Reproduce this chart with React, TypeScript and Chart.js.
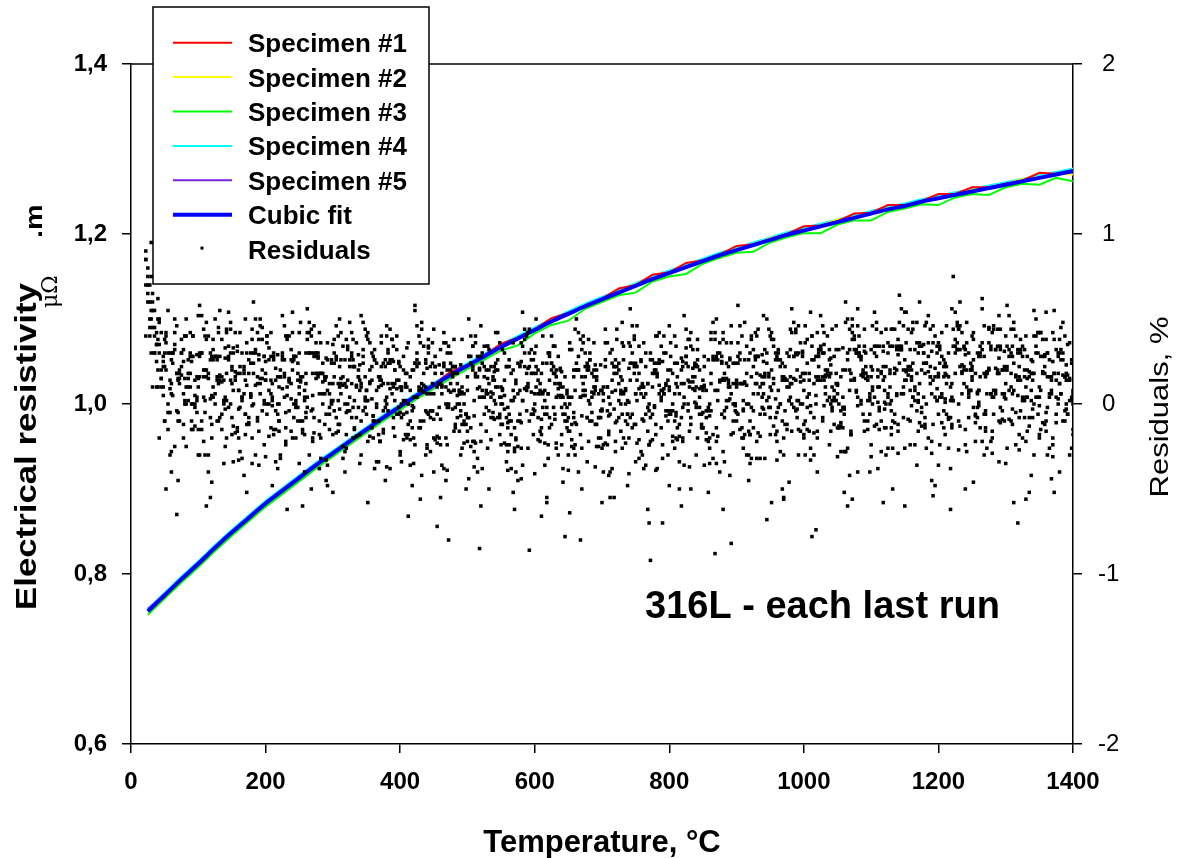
import React, { useEffect, useRef } from 'react';
import { Chart, registerables } from 'chart.js';

Chart.register(...registerables);

const FONT = '"Liberation Sans", Arial, Helvetica, sans-serif';

// Temperatures (°C) for specimen curves and cubic fit
const TEMPS = [
  25, 50, 75, 100, 125, 150, 175, 200, 225, 250,
  275, 300, 325, 350, 375, 400, 425, 450, 475, 500,
  525, 550, 575, 600, 625, 650, 675, 700, 725, 750,
  775, 800, 825, 850, 875, 900, 925, 950, 975, 1000,
  1025, 1050, 1075, 1100, 1125, 1150, 1175, 1200, 1225, 1250,
  1275, 1300, 1325, 1350, 1375, 1400,
];

// Electrical resistivity, µΩ.m
const SPEC1 = [
  0.757, 0.776, 0.795, 0.813, 0.832, 0.850, 0.867, 0.884, 0.899, 0.914,
  0.929, 0.943, 0.957, 0.971, 0.985, 0.998, 1.011, 1.023, 1.038, 1.046,
  1.057, 1.071, 1.078, 1.088, 1.101, 1.107, 1.116, 1.124, 1.136, 1.140,
  1.152, 1.155, 1.166, 1.169, 1.176, 1.186, 1.188, 1.194, 1.200, 1.209,
  1.210, 1.215, 1.224, 1.225, 1.234, 1.234, 1.239, 1.247, 1.247, 1.255,
  1.255, 1.259, 1.263, 1.272, 1.271, 1.275,
];
const SPEC2 = [
  0.757, 0.776, 0.795, 0.813, 0.832, 0.850, 0.867, 0.884, 0.899, 0.914,
  0.929, 0.943, 0.957, 0.971, 0.985, 0.998, 1.011, 1.023, 1.035, 1.046,
  1.057, 1.068, 1.078, 1.088, 1.098, 1.107, 1.116, 1.124, 1.132, 1.141,
  1.148, 1.155, 1.162, 1.169, 1.176, 1.182, 1.188, 1.195, 1.200, 1.205,
  1.210, 1.217, 1.220, 1.225, 1.230, 1.234, 1.239, 1.243, 1.247, 1.252,
  1.255, 1.259, 1.265, 1.267, 1.271, 1.270,
];
const SPEC3 = [
  0.752, 0.771, 0.790, 0.808, 0.827, 0.845, 0.862, 0.879, 0.894, 0.909,
  0.924, 0.938, 0.952, 0.966, 0.980, 0.993, 1.006, 1.018, 1.030, 1.041,
  1.052, 1.063, 1.069, 1.083, 1.093, 1.098, 1.112, 1.120, 1.128, 1.131,
  1.144, 1.150, 1.153, 1.165, 1.172, 1.178, 1.179, 1.190, 1.196, 1.201,
  1.201, 1.211, 1.216, 1.216, 1.226, 1.230, 1.235, 1.234, 1.243, 1.247,
  1.246, 1.255, 1.259, 1.258, 1.266, 1.262,
];
const SPEC4 = [
  0.758, 0.778, 0.797, 0.815, 0.834, 0.852, 0.869, 0.886, 0.901, 0.916,
  0.931, 0.945, 0.959, 0.973, 0.987, 1.000, 1.013, 1.025, 1.037, 1.048,
  1.059, 1.070, 1.080, 1.090, 1.100, 1.109, 1.118, 1.126, 1.134, 1.142,
  1.150, 1.157, 1.164, 1.171, 1.178, 1.184, 1.190, 1.196, 1.202, 1.207,
  1.212, 1.217, 1.222, 1.227, 1.232, 1.236, 1.241, 1.245, 1.249, 1.253,
  1.257, 1.261, 1.265, 1.269, 1.273, 1.277,
];
const SPEC5 = [
  0.759, 0.777, 0.796, 0.814, 0.832, 0.850, 0.867, 0.884, 0.899, 0.914,
  0.929, 0.943, 0.957, 0.971, 0.985, 0.998, 1.011, 1.023, 1.035, 1.046,
  1.057, 1.068, 1.078, 1.088, 1.098, 1.107, 1.116, 1.125, 1.133, 1.140,
  1.148, 1.156, 1.162, 1.169, 1.177, 1.182, 1.189, 1.194, 1.200, 1.206,
  1.210, 1.215, 1.221, 1.225, 1.230, 1.235, 1.239, 1.243, 1.248, 1.251,
  1.255, 1.260, 1.263, 1.267, 1.271, 1.274,
];
const FIT = [
  0.756, 0.775, 0.794, 0.812, 0.831, 0.849, 0.866, 0.883, 0.898, 0.913,
  0.928, 0.942, 0.956, 0.970, 0.984, 0.997, 1.010, 1.022, 1.034, 1.045,
  1.056, 1.067, 1.077, 1.087, 1.097, 1.106, 1.115, 1.123, 1.131, 1.139,
  1.147, 1.154, 1.161, 1.168, 1.175, 1.181, 1.187, 1.193, 1.199, 1.204,
  1.209, 1.214, 1.219, 1.224, 1.229, 1.233, 1.238, 1.242, 1.246, 1.250,
  1.254, 1.258, 1.262, 1.266, 1.270, 1.274,
];

// Residual temperatures (°C), four interleaved sampling grids
const RES_T_A = [
  30, 40, 50, 60, 70, 80, 90, 100, 110, 120, 130, 140, 150, 160, 170, 180, 190, 200, 210, 220,
  230, 240, 250, 260, 270, 280, 290, 300, 310, 320, 330, 340, 350, 360, 370, 380, 390, 400, 410, 420,
  430, 440, 450, 460, 470, 480, 490, 500, 510, 520, 530, 540, 550, 560, 570, 580, 590, 600, 610, 620,
  630, 640, 650, 660, 670, 680, 690, 700, 710, 720, 730, 740, 750, 760, 770, 780, 790, 800, 810, 820,
  830, 840, 850, 860, 870, 880, 890, 900, 910, 920, 930, 940, 950, 960, 970, 980, 990, 1000, 1010, 1020,
  1030, 1040, 1050, 1060, 1070, 1080, 1090, 1100, 1110, 1120, 1130, 1140, 1150, 1160, 1170, 1180, 1190, 1200, 1210, 1220,
  1230, 1240, 1250, 1260, 1270, 1280, 1290, 1300, 1310, 1320, 1330, 1340, 1350, 1360, 1370, 1380, 1390, 1400,
];
const RES_T_B = [
  25, 35, 45, 55, 65, 75, 85, 95, 105, 115, 125, 135, 145, 155, 165, 175, 185, 195, 205, 215,
  225, 235, 245, 255, 265, 275, 285, 295, 305, 315, 325, 335, 345, 355, 365, 375, 385, 395, 405, 415,
  425, 435, 445, 455, 465, 475, 485, 495, 505, 515, 525, 535, 545, 555, 565, 575, 585, 595, 605, 615,
  625, 635, 645, 655, 665, 675, 685, 695, 705, 715, 725, 735, 745, 755, 765, 775, 785, 795, 805, 815,
  825, 835, 845, 855, 865, 875, 885, 895, 905, 915, 925, 935, 945, 955, 965, 975, 985, 995, 1005, 1015,
  1025, 1035, 1045, 1055, 1065, 1075, 1085, 1095, 1105, 1115, 1125, 1135, 1145, 1155, 1165, 1175, 1185, 1195, 1205, 1215,
  1225, 1235, 1245, 1255, 1265, 1275, 1285, 1295, 1305, 1315, 1325, 1335, 1345, 1355, 1365, 1375, 1385, 1395,
];
const RES_T_C = [
  28, 38, 48, 58, 68, 78, 88, 98, 108, 118, 128, 138, 148, 158, 168, 178, 188, 198, 208, 218,
  228, 238, 248, 258, 268, 278, 288, 298, 308, 318, 328, 338, 348, 358, 368, 378, 388, 398, 408, 418,
  428, 438, 448, 458, 468, 478, 488, 498, 508, 518, 528, 538, 548, 558, 568, 578, 588, 598, 608, 618,
  628, 638, 648, 658, 668, 678, 688, 698, 708, 718, 728, 738, 748, 758, 768, 778, 788, 798, 808, 818,
  828, 838, 848, 858, 868, 878, 888, 898, 908, 918, 928, 938, 948, 958, 968, 978, 988, 998, 1008, 1018,
  1028, 1038, 1048, 1058, 1068, 1078, 1088, 1098, 1108, 1118, 1128, 1138, 1148, 1158, 1168, 1178, 1188, 1198, 1208, 1218,
  1228, 1238, 1248, 1258, 1268, 1278, 1288, 1298, 1308, 1318, 1328, 1338, 1348, 1358, 1368, 1378, 1388, 1398,
];
const RES_T_D = [
  22, 32, 42, 52, 62, 72, 82, 92, 102, 112, 122, 132, 142, 152, 162, 172, 182, 192, 202, 212,
  222, 232, 242, 252, 262, 272, 282, 292, 302, 312, 322, 332, 342, 352, 362, 372, 382, 392, 402, 412,
  422, 432, 442, 452, 462, 472, 482, 492, 502, 512, 522, 532, 542, 552, 562, 572, 582, 592, 602, 612,
  622, 632, 642, 652, 662, 672, 682, 692, 702, 712, 722, 732, 742, 752, 762, 772, 782, 792, 802, 812,
  822, 832, 842, 852, 862, 872, 882, 892, 902, 912, 922, 932, 942, 952, 962, 972, 982, 992, 1002, 1012,
  1022, 1032, 1042, 1052, 1062, 1072, 1082, 1092, 1102, 1112, 1122, 1132, 1142, 1152, 1162, 1172, 1182, 1192, 1202, 1212,
  1222, 1232, 1242, 1252, 1262, 1272, 1282, 1292, 1302, 1312, 1322, 1332, 1342, 1352, 1362, 1372, 1382, 1392,
];

// Residuals, %
const RES1 = [
  0.95, 0.62, 0.30, 0.12, -0.05, 0.40, 0.28, 0.15, 0.02, -0.12, 0.45, 0.33, 0.20, 0.08, -0.06, -0.35, 0.38, 0.25, 0.12, 0.00,
  -0.14, 0.42, 0.30, 0.18, 0.05, -0.10, -0.45, 0.35, 0.22, 0.10, -0.02, -0.18, 0.40, 0.28, 0.16, 0.04, -0.08, -0.30, 0.33, 0.20,
  0.08, -0.05, -0.20, -0.55, 0.30, 0.18, 0.06, -0.08, -0.22, 0.28, 0.15, 0.02, -0.12, -0.28, -0.62, 0.25, 0.12, 0.00, -0.14, 0.30,
  0.18, 0.05, -0.08, -0.24, -0.50, 0.22, 0.10, -0.03, -0.18, 0.26, 0.14, 0.01, -0.12, -0.30, -0.70, 0.20, 0.08, -0.06, -0.20, 0.25,
  0.13, 0.00, -0.14, -0.35, 0.28, 0.15, 0.03, -0.10, -0.26, 0.30, 0.18, 0.06, -0.08, -0.22, -0.55, 0.32, 0.20, 0.08, -0.05, -0.20,
  0.35, 0.23, 0.11, -0.02, -0.16, -0.40, 0.34, 0.22, 0.10, -0.03, -0.18, 0.38, 0.26, 0.14, 0.02, -0.12, -0.45, 0.36, 0.24, 0.12,
  0.00, -0.15, 0.40, 0.28, 0.16, 0.04, -0.10, -0.35, 0.34, 0.22, 0.10, -0.03, -0.18, 0.38, 0.25, 0.12, 0.00, -0.15,
];
const RES2 = [
  0.80, 0.45, 0.20, 0.55, 0.42, 0.30, 0.18, 0.05, -0.10, -0.40, 0.50, 0.38, 0.26, 0.14, 0.02, -0.12, -0.30, 0.45, 0.33, 0.21,
  0.09, -0.04, -0.20, -0.60, 0.42, 0.30, 0.18, 0.06, -0.08, -0.25, 0.48, 0.36, 0.24, 0.12, 0.00, -0.15, -0.38, 0.40, 0.28, 0.16,
  0.04, -0.10, -0.28, -0.72, 0.36, 0.24, 0.12, 0.00, -0.14, -0.32, 0.34, 0.22, 0.10, -0.03, -0.18, -0.45, 0.38, 0.26, 0.14, 0.02,
  -0.12, -0.30, -0.78, 0.32, 0.20, 0.08, -0.05, -0.20, 0.36, 0.24, 0.12, 0.00, -0.14, -0.32, 0.30, 0.18, 0.06, -0.07, -0.22, -0.50,
  0.33, 0.21, 0.09, -0.04, -0.18, -0.40, 0.36, 0.24, 0.12, 0.00, -0.14, -0.32, -0.68, 0.34, 0.22, 0.10, -0.02, -0.16, 0.38, 0.26,
  0.14, 0.02, -0.12, -0.28, -0.60, 0.40, 0.28, 0.16, 0.04, -0.10, -0.26, 0.44, 0.32, 0.20, 0.08, -0.05, -0.20, -0.48, 0.42, 0.30,
  0.18, 0.06, -0.08, -0.22, 0.62, 0.45, 0.32, 0.20, 0.08, -0.05, -0.20, -0.52, 0.40, 0.28, 0.16, 0.04, -0.10, -0.30,
];
const RES3 = [
  0.70, 0.35, 0.05, -0.30, -0.65, 0.25, 0.10, -0.05, -0.22, -0.55, 0.28, 0.14, 0.00, -0.16, -0.42, 0.30, 0.16, 0.02, -0.14, -0.38,
  0.26, 0.12, -0.02, -0.18, -0.50, 0.28, 0.14, 0.00, -0.16, -0.40, 0.30, 0.16, 0.02, -0.14, -0.34, 0.26, 0.12, -0.02, -0.18, -0.48,
  0.24, 0.10, -0.04, -0.20, -0.45, 0.22, 0.08, -0.06, -0.22, -0.85, 0.20, 0.06, -0.08, -0.24, -0.52, 0.22, 0.08, -0.06, -0.22, -0.58,
  0.18, 0.04, -0.10, -0.26, -0.80, 0.20, 0.06, -0.08, -0.24, -0.55, 0.16, 0.02, -0.12, -0.28, -0.62, 0.18, 0.04, -0.10, -0.26, -0.60,
  0.22, 0.08, -0.06, -0.22, -0.88, 0.24, 0.10, -0.04, -0.20, -0.45, 0.26, 0.12, -0.02, -0.18, -0.50, 0.28, 0.14, 0.00, -0.16, -0.74,
  0.30, 0.16, 0.02, -0.14, -0.42, 0.32, 0.18, 0.04, -0.12, -0.58, 0.34, 0.20, 0.06, -0.10, -0.36, 0.30, 0.16, 0.02, -0.14, -0.62,
  0.36, 0.22, 0.08, -0.08, -0.30, 0.34, 0.20, 0.06, -0.10, -0.70, 0.32, 0.18, 0.04, -0.12, -0.44, 0.30, 0.16, 0.02,
];
const RES4 = [
  0.90, 0.60, 0.48, 0.36, 0.24, 0.12, 0.50, 0.40, 0.30, 0.20, 0.10, 0.55, 0.44, 0.33, 0.22, 0.11, 0.00, 0.46, 0.36, 0.26,
  0.16, 0.05, -0.08, 0.48, 0.38, 0.28, 0.18, 0.08, -0.04, 0.42, 0.32, 0.22, 0.12, 0.02, -0.10, 0.40, 0.30, 0.20, 0.10, 0.00,
  0.55, 0.44, 0.33, 0.22, 0.11, 0.00, -0.12, 0.38, 0.28, 0.18, 0.08, -0.04, 0.42, 0.32, 0.22, 0.12, 0.02, -0.10, 0.50, 0.40,
  0.30, 0.20, 0.10, 0.00, -0.12, 0.36, 0.26, 0.16, 0.06, -0.06, 0.44, 0.34, 0.24, 0.14, 0.04, -0.08, 0.40, 0.30, 0.20, 0.10,
  0.00, -0.12, 0.38, 0.28, 0.18, 0.08, -0.04, 0.46, 0.36, 0.26, 0.16, 0.06, -0.06, 0.42, 0.32, 0.22, 0.12, 0.02, -0.10, 0.40,
  0.30, 0.20, 0.10, 0.00, 0.48, 0.38, 0.28, 0.18, 0.08, -0.04, 0.44, 0.34, 0.24, 0.14, 0.04, 0.60, 0.48, 0.36, 0.24, 0.12,
  0.02, 0.46, 0.36, 0.26, 0.16, 0.06, -0.06, 0.44, 0.34, 0.24, 0.14, 0.04, 0.55, 0.42, 0.30, 0.18, 0.06, -0.06,
];
const RES5 = [
  0.50, 0.20, -0.10, -0.40, 0.15, 0.00, -0.15, -0.30, 0.20, 0.05, -0.10, -0.25, 0.22, 0.08, -0.06, -0.20, -0.36, 0.18, 0.04, -0.10,
  -0.24, 0.20, 0.06, -0.08, -0.22, -0.38, 0.16, 0.02, -0.12, -0.26, 0.22, 0.08, -0.06, -0.20, 0.14, 0.00, -0.14, -0.28, 0.18, 0.04,
  -0.10, -0.24, -0.40, 0.12, -0.02, -0.16, -0.30, 0.16, 0.02, -0.12, -0.26, 0.14, 0.00, -0.14, -0.28, -0.44, 0.10, -0.04, -0.18, -0.32,
  0.12, -0.02, -0.16, -0.30, 0.16, 0.02, -0.12, -0.26, -0.42, 0.08, -0.06, -0.20, -0.34, 0.10, -0.04, -0.18, -0.32, -0.48, 0.12, -0.02,
  -0.16, -0.30, 0.14, 0.00, -0.14, -0.28, -0.42, 0.10, -0.04, -0.18, -0.32, 0.12, -0.02, -0.16, -0.30, 0.16, 0.02, -0.12, -0.26, -0.40,
  0.14, 0.00, -0.14, -0.28, 0.18, 0.04, -0.10, -0.24, -0.38, 0.16, 0.02, -0.12, -0.26, 0.20, 0.06, -0.08, -0.22, -0.36, 0.18, 0.04,
  -0.10, -0.24, 0.22, 0.08, -0.06, -0.20, -0.34, 0.20, 0.06, -0.08, -0.22, 0.18, 0.04, -0.10, -0.24, -0.40, 0.14, 0.00,
];
const RES6 = [
  0.60, 0.30, 0.10, -0.15, 0.35, 0.22, 0.10, -0.02, 0.30, 0.18, 0.06, -0.06, 0.28, 0.16, 0.04, -0.08, 0.32, 0.20, 0.08, -0.04,
  0.26, 0.14, 0.02, -0.10, 0.30, 0.18, 0.06, -0.06, 0.28, 0.16, 0.04, -0.08, 0.32, 0.20, 0.08, -0.04, 0.26, 0.14, 0.02, -0.10,
  0.30, 0.18, 0.06, -0.06, 0.24, 0.12, 0.00, -0.12, 0.28, 0.16, 0.04, -0.08, 0.26, 0.14, 0.02, -0.10, 0.30, 0.18, 0.06, -0.06,
  0.24, 0.12, 0.00, -0.12, 0.28, 0.16, 0.04, -0.08, 0.26, 0.14, 0.02, -0.10, 0.30, 0.18, 0.06, -0.06, 0.24, 0.12, 0.00, -0.12,
  0.28, 0.16, 0.04, -0.08, 0.26, 0.14, 0.02, -0.10, 0.30, 0.18, 0.06, -0.06, 0.24, 0.12, 0.00, -0.12, 0.28, 0.16, 0.04, -0.08,
  0.32, 0.20, 0.08, -0.04, 0.26, 0.14, 0.02, -0.10, 0.30, 0.18, 0.06, -0.06, 0.34, 0.22, 0.10, -0.02, 0.28, 0.16, 0.04, -0.08,
  0.30, 0.18, 0.06, -0.06, 0.32, 0.20, 0.08, -0.04, 0.28, 0.16, 0.04, -0.08, 0.30, 0.18, 0.06, -0.06, 0.26, 0.14,
];
const RES7 = [
  0.60, 0.42, 0.28, 0.14, 0.46, 0.32, 0.18, 0.04, 0.44, 0.30, 0.16, 0.02, 0.48, 0.34, 0.20, 0.06, 0.42, 0.28, 0.14, 0.00,
  0.46, 0.32, 0.18, 0.04, 0.44, 0.30, 0.16, 0.02, 0.40, 0.26, 0.12, -0.02, 0.44, 0.30, 0.16, 0.02, 0.38, 0.24, 0.10, -0.04,
  0.40, 0.26, 0.12, -0.02, 0.36, 0.22, 0.08, -0.06, 0.34, 0.20, 0.06, -0.08, 0.36, 0.22, 0.08, -0.06, 0.40, 0.26, 0.12, -0.02,
  0.34, 0.20, 0.06, -0.08, 0.38, 0.24, 0.10, -0.04, 0.36, 0.22, 0.08, -0.06, 0.40, 0.26, 0.12, -0.02, 0.34, 0.20, 0.06, -0.08,
  0.38, 0.24, 0.10, -0.04, 0.42, 0.28, 0.14, 0.00, 0.40, 0.26, 0.12, -0.02, 0.44, 0.30, 0.16, 0.02, 0.42, 0.28, 0.14, 0.00,
  0.46, 0.32, 0.18, 0.04, 0.44, 0.30, 0.16, 0.02, 0.48, 0.34, 0.20, 0.06, 0.46, 0.32, 0.18, 0.04, 0.44, 0.30, 0.16, 0.02,
  0.48, 0.34, 0.20, 0.06, 0.46, 0.32, 0.18, 0.04, 0.44, 0.30, 0.16, 0.02, 0.42, 0.28, 0.14, 0.00, 0.40, 0.26,
];
const RES8 = [
  0.40, 0.10, -0.20, -0.50, 0.30, 0.15, 0.00, -0.15, -0.30, -0.60, 0.32, 0.17, 0.02, -0.13, -0.28, -0.52, 0.30, 0.15, 0.00, -0.15,
  -0.30, -0.62, 0.28, 0.13, -0.02, -0.17, -0.32, -0.48, 0.30, 0.15, 0.00, -0.15, -0.30, -0.58, 0.26, 0.11, -0.04, -0.19, -0.34, -0.66,
  0.24, 0.09, -0.06, -0.21, -0.36, -0.80, 0.22, 0.07, -0.08, -0.23, -0.38, -0.50, 0.24, 0.09, -0.06, -0.21, -0.36, -0.86, 0.22, 0.07,
  -0.08, -0.23, -0.38, -0.64, 0.20, 0.05, -0.10, -0.25, -0.40, -0.55, 0.22, 0.07, -0.08, -0.23, -0.38, -0.92, 0.24, 0.09, -0.06, -0.21,
  -0.36, -0.50, 0.26, 0.11, -0.04, -0.19, -0.34, -0.82, 0.28, 0.13, -0.02, -0.17, -0.32, -0.58, 0.30, 0.15, 0.00, -0.15, -0.30, -0.78,
  0.32, 0.17, 0.02, -0.13, -0.28, -0.56, 0.30, 0.15, 0.00, -0.15, -0.30, -0.50, 0.34, 0.19, 0.04, -0.11, -0.26, -0.54, 0.32, 0.17,
  0.02, -0.13, -0.28, -0.46, 0.34, 0.19, 0.04, -0.11, -0.26, -0.58, 0.30, 0.15, 0.00, -0.15, -0.30, -0.52, 0.32, 0.17,
];
const RES9 = [
  0.75, 0.50, 0.38, 0.26, 0.14, 0.02, -0.10, 0.52, 0.40, 0.28, 0.16, 0.04, -0.08, -0.20, 0.50, 0.38, 0.26, 0.14, 0.02, -0.10,
  -0.22, 0.54, 0.42, 0.30, 0.18, 0.06, -0.06, -0.18, 0.50, 0.38, 0.26, 0.14, 0.02, -0.10, -0.22, 0.46, 0.34, 0.22, 0.10, -0.02,
  -0.14, -0.26, 0.44, 0.32, 0.20, 0.08, -0.04, -0.16, -0.28, 0.46, 0.34, 0.22, 0.10, -0.02, -0.14, -0.26, 0.42, 0.30, 0.18, 0.06,
  -0.06, -0.18, -0.30, 0.44, 0.32, 0.20, 0.08, -0.04, -0.16, -0.28, 0.48, 0.36, 0.24, 0.12, 0.00, -0.12, -0.24, 0.46, 0.34, 0.22,
  0.10, -0.02, -0.14, -0.26, 0.50, 0.38, 0.26, 0.14, 0.02, -0.10, -0.22, 0.52, 0.40, 0.28, 0.16, 0.04, -0.08, -0.20, 0.54, 0.42,
  0.30, 0.18, 0.06, -0.06, -0.18, 0.56, 0.44, 0.32, 0.20, 0.08, -0.04, -0.16, 0.54, 0.42, 0.30, 0.18, 0.06, -0.06, -0.18, 0.56,
  0.44, 0.32, 0.20, 0.08, -0.04, -0.16, 0.52, 0.40, 0.28, 0.16, 0.04, -0.08, -0.20, 0.54, 0.42, 0.30, 0.18, 0.06,
];
const RES10 = [
  0.70, 0.40, 0.15, -0.05, -0.25, 0.30, 0.15, 0.00, -0.15, -0.30, 0.28, 0.13, -0.02, -0.17, -0.32, 0.26, 0.11, -0.04, -0.19, -0.34,
  0.30, 0.15, 0.00, -0.15, -0.30, 0.28, 0.13, -0.02, -0.17, -0.32, 0.26, 0.11, -0.04, -0.19, -0.34, 0.24, 0.09, -0.06, -0.21, -0.36,
  0.22, 0.07, -0.08, -0.23, -0.38, 0.20, 0.05, -0.10, -0.25, -0.40, 0.22, 0.07, -0.08, -0.23, -0.38, 0.24, 0.09, -0.06, -0.21, -0.36,
  0.20, 0.05, -0.10, -0.25, -0.40, 0.22, 0.07, -0.08, -0.23, -0.38, 0.24, 0.09, -0.06, -0.21, -0.36, 0.26, 0.11, -0.04, -0.19, -0.34,
  0.28, 0.13, -0.02, -0.17, -0.32, 0.30, 0.15, 0.00, -0.15, -0.30, 0.32, 0.17, 0.02, -0.13, -0.28, 0.30, 0.15, 0.00, -0.15, -0.30,
  0.34, 0.19, 0.04, -0.11, -0.26, 0.32, 0.17, 0.02, -0.13, -0.28, 0.36, 0.21, 0.06, -0.09, -0.24, 0.34, 0.19, 0.04, -0.11, -0.26,
  0.38, 0.23, 0.08, -0.07, -0.22, 0.36, 0.21, 0.06, -0.09, -0.24, 0.34, 0.19, 0.04, -0.11, -0.26, 0.32, 0.17, 0.02,
];
const RES11 = [
  0.40, 0.25, 0.10, 0.30, 0.18, 0.06, 0.28, 0.16, 0.04, 0.26, 0.14, 0.02, 0.30, 0.18, 0.06, 0.24, 0.12, 0.00, 0.28, 0.16,
  0.04, 0.26, 0.14, 0.02, 0.30, 0.18, 0.06, 0.24, 0.12, 0.00, 0.28, 0.16, 0.04, 0.22, 0.10, -0.02, 0.26, 0.14, 0.02, 0.20,
  0.08, -0.04, 0.24, 0.12, 0.00, 0.18, 0.06, -0.06, 0.22, 0.10, -0.02, 0.16, 0.04, -0.08, 0.20, 0.08, -0.04, 0.18, 0.06, -0.06,
  0.22, 0.10, -0.02, 0.16, 0.04, -0.08, 0.20, 0.08, -0.04, 0.18, 0.06, -0.06, 0.22, 0.10, -0.02, 0.20, 0.08, -0.04, 0.24, 0.12,
  0.00, 0.22, 0.10, -0.02, 0.26, 0.14, 0.02, 0.24, 0.12, 0.00, 0.28, 0.16, 0.04, 0.26, 0.14, 0.02, 0.30, 0.18, 0.06, 0.28,
  0.16, 0.04, 0.32, 0.20, 0.08, 0.30, 0.18, 0.06, 0.34, 0.22, 0.10, 0.32, 0.20, 0.08, 0.36, 0.24, 0.12, 0.34, 0.22, 0.10,
  0.32, 0.20, 0.08, 0.30, 0.18, 0.06, 0.34, 0.22, 0.10, 0.32, 0.20, 0.08, 0.30, 0.18, 0.06, 0.28, 0.16, 0.04,
];
const RES12 = [
  0.85, 0.65, 0.50, 0.40, 0.30, 0.20, 0.10, 0.00, 0.58, 0.48, 0.38, 0.28, 0.18, 0.08, -0.02, -0.12, 0.60, 0.50, 0.40, 0.30,
  0.20, 0.10, 0.00, -0.10, 0.56, 0.46, 0.36, 0.26, 0.16, 0.06, -0.04, -0.14, 0.52, 0.42, 0.32, 0.22, 0.12, 0.02, -0.08, -0.18,
  0.58, 0.48, 0.38, 0.28, 0.18, 0.08, -0.02, -0.12, 0.50, 0.40, 0.30, 0.20, 0.10, 0.00, -0.10, -0.20, 0.54, 0.44, 0.34, 0.24,
  0.14, 0.04, -0.06, -0.16, 0.50, 0.40, 0.30, 0.20, 0.10, 0.00, -0.10, -0.20, 0.56, 0.46, 0.36, 0.26, 0.16, 0.06, -0.04, -0.14,
  0.52, 0.42, 0.32, 0.22, 0.12, 0.02, -0.08, -0.18, 0.58, 0.48, 0.38, 0.28, 0.18, 0.08, -0.02, -0.12, 0.56, 0.46, 0.36, 0.26,
  0.16, 0.06, -0.04, -0.14, 0.60, 0.50, 0.40, 0.30, 0.20, 0.10, 0.00, -0.10, 0.64, 0.54, 0.44, 0.34, 0.24, 0.14, 0.04, -0.06,
  0.75, 0.60, 0.48, 0.38, 0.28, 0.18, 0.08, -0.02, 0.58, 0.48, 0.38, 0.28, 0.18, 0.08, -0.02, 0.55, 0.45, 0.35,
];
const RES13 = [
  0.55, 0.38, 0.22, 0.06, -0.10, 0.40, 0.25, 0.10, -0.05, -0.20, 0.42, 0.27, 0.12, -0.03, -0.18, 0.44, 0.29, 0.14, -0.01, -0.16,
  0.40, 0.25, 0.10, -0.05, -0.20, 0.42, 0.27, 0.12, -0.03, -0.18, 0.38, 0.23, 0.08, -0.07, -0.22, 0.40, 0.25, 0.10, -0.05, -0.20,
  0.36, 0.21, 0.06, -0.09, -0.24, 0.38, 0.23, 0.08, -0.07, -0.22, 0.34, 0.19, 0.04, -0.11, -0.26, 0.36, 0.21, 0.06, -0.09, -0.24,
  0.34, 0.19, 0.04, -0.11, -0.26, 0.38, 0.23, 0.08, -0.07, -0.22, 0.36, 0.21, 0.06, -0.09, -0.24, 0.40, 0.25, 0.10, -0.05, -0.20,
  0.38, 0.23, 0.08, -0.07, -0.22, 0.42, 0.27, 0.12, -0.03, -0.18, 0.40, 0.25, 0.10, -0.05, -0.20, 0.44, 0.29, 0.14, -0.01, -0.16,
  0.42, 0.27, 0.12, -0.03, -0.18, 0.46, 0.31, 0.16, 0.01, -0.14, 0.44, 0.29, 0.14, -0.01, -0.16, 0.46, 0.31, 0.16, 0.01, -0.14,
  0.44, 0.29, 0.14, -0.01, -0.16, 0.42, 0.27, 0.12, -0.03, -0.18, 0.40, 0.25, 0.10, -0.05, -0.20, 0.38, 0.23, 0.08,
];
const RES14 = [
  0.65, 0.30, 0.15, 0.00, 0.32, 0.17, 0.02, -0.13, 0.30, 0.15, 0.00, -0.15, 0.34, 0.19, 0.04, -0.11, 0.30, 0.15, 0.00, -0.15,
  0.28, 0.13, -0.02, -0.17, 0.30, 0.15, 0.00, -0.15, 0.26, 0.11, -0.04, -0.19, 0.28, 0.13, -0.02, -0.17, 0.24, 0.09, -0.06, -0.21,
  0.26, 0.11, -0.04, -0.19, 0.22, 0.07, -0.08, -0.23, 0.24, 0.09, -0.06, -0.21, 0.20, 0.05, -0.10, -0.25, 0.22, 0.07, -0.08, -0.23,
  0.24, 0.09, -0.06, -0.21, 0.20, 0.05, -0.10, -0.25, 0.22, 0.07, -0.08, -0.23, 0.24, 0.09, -0.06, -0.21, 0.26, 0.11, -0.04, -0.19,
  0.24, 0.09, -0.06, -0.21, 0.28, 0.13, -0.02, -0.17, 0.26, 0.11, -0.04, -0.19, 0.30, 0.15, 0.00, -0.15, 0.28, 0.13, -0.02, -0.17,
  0.32, 0.17, 0.02, -0.13, 0.30, 0.15, 0.00, -0.15, 0.34, 0.19, 0.04, -0.11, 0.32, 0.17, 0.02, -0.13, 0.36, 0.21, 0.06, -0.09,
  0.34, 0.19, 0.04, -0.11, 0.36, 0.21, 0.06, -0.09, 0.32, 0.17, 0.02, -0.13, 0.34, 0.19, 0.04, -0.11, 0.30, 0.15,
];
const RES15 = [
  0.50, 0.35, 0.22, 0.09, -0.04, -0.20, 0.42, 0.29, 0.16, 0.03, -0.10, -0.35, 0.44, 0.31, 0.18, 0.05, -0.08, -0.24, 0.42, 0.29,
  0.16, 0.03, -0.10, -0.40, 0.40, 0.27, 0.14, 0.01, -0.12, -0.28, 0.42, 0.29, 0.16, 0.03, -0.10, -0.45, 0.38, 0.25, 0.12, -0.01,
  -0.14, -0.30, 0.36, 0.23, 0.10, -0.03, -0.16, -0.50, 0.34, 0.21, 0.08, -0.05, -0.18, -0.34, 0.36, 0.23, 0.10, -0.03, -0.16, -0.55,
  0.34, 0.21, 0.08, -0.05, -0.18, -0.34, 0.36, 0.23, 0.10, -0.03, -0.16, -0.48, 0.38, 0.25, 0.12, -0.01, -0.14, -0.30, 0.40, 0.27,
  0.14, 0.01, -0.12, -0.52, 0.38, 0.25, 0.12, -0.01, -0.14, -0.30, 0.42, 0.29, 0.16, 0.03, -0.10, -0.46, 0.44, 0.31, 0.18, 0.05,
  -0.08, -0.24, 0.46, 0.33, 0.20, 0.07, -0.06, -0.40, 0.44, 0.31, 0.18, 0.05, -0.08, -0.24, 0.48, 0.35, 0.22, 0.09, -0.04, -0.38,
  0.46, 0.33, 0.20, 0.07, -0.06, -0.22, 0.44, 0.31, 0.18, 0.05, -0.08, -0.42, 0.42, 0.29, 0.16, 0.03, -0.10, -0.26,
];
const RES16 = [
  0.70, 0.45, 0.30, 0.42, 0.30, 0.18, 0.40, 0.28, 0.16, 0.38, 0.26, 0.14, 0.42, 0.30, 0.18, 0.36, 0.24, 0.12, 0.40, 0.28,
  0.16, 0.38, 0.26, 0.14, 0.42, 0.30, 0.18, 0.36, 0.24, 0.12, 0.34, 0.22, 0.10, 0.38, 0.26, 0.14, 0.32, 0.20, 0.08, 0.36,
  0.24, 0.12, 0.30, 0.18, 0.06, 0.34, 0.22, 0.10, 0.28, 0.16, 0.04, 0.32, 0.20, 0.08, 0.26, 0.14, 0.02, 0.30, 0.18, 0.06,
  0.28, 0.16, 0.04, 0.32, 0.20, 0.08, 0.26, 0.14, 0.02, 0.30, 0.18, 0.06, 0.34, 0.22, 0.10, 0.30, 0.18, 0.06, 0.36, 0.24,
  0.12, 0.34, 0.22, 0.10, 0.38, 0.26, 0.14, 0.36, 0.24, 0.12, 0.40, 0.28, 0.16, 0.38, 0.26, 0.14, 0.42, 0.30, 0.18, 0.40,
  0.28, 0.16, 0.44, 0.32, 0.20, 0.42, 0.30, 0.18, 0.46, 0.34, 0.22, 0.44, 0.32, 0.20, 0.48, 0.36, 0.24, 0.46, 0.34, 0.22,
  0.44, 0.32, 0.20, 0.42, 0.30, 0.18, 0.46, 0.34, 0.22, 0.44, 0.32, 0.20, 0.40, 0.28, 0.16, 0.38, 0.26, 0.14,
];
const RES17 = [
  0.30, 0.10, -0.10, -0.28, -0.45, 0.15, 0.00, -0.15, -0.30, -0.46, 0.12, -0.03, -0.18, -0.33, 0.14, -0.01, -0.16, -0.31, -0.48, 0.10,
  -0.05, -0.20, -0.35, 0.12, -0.03, -0.18, -0.33, -0.52, 0.10, -0.05, -0.20, -0.35, 0.08, -0.07, -0.22, -0.37, 0.10, -0.05, -0.20, -0.35,
  -0.56, 0.06, -0.09, -0.24, -0.39, 0.08, -0.07, -0.22, -0.37, -0.60, 0.06, -0.09, -0.24, -0.39, 0.04, -0.11, -0.26, -0.41, -0.66, 0.06,
  -0.09, -0.24, -0.39, 0.08, -0.07, -0.22, -0.37, -0.58, 0.04, -0.11, -0.26, -0.41, 0.06, -0.09, -0.24, -0.39, -0.70, 0.08, -0.07, -0.22,
  -0.37, 0.10, -0.05, -0.20, -0.35, -0.62, 0.10, -0.05, -0.20, -0.35, 0.12, -0.03, -0.18, -0.33, -0.56, 0.12, -0.03, -0.18, -0.33, 0.14,
  -0.01, -0.16, -0.31, -0.52, 0.14, -0.01, -0.16, -0.31, 0.16, 0.01, -0.14, -0.29, -0.60, 0.16, 0.01, -0.14, -0.29, 0.18, 0.03, -0.12,
  -0.27, -0.50, 0.16, 0.01, -0.14, -0.29, 0.18, 0.03, -0.12, -0.27, -0.56, 0.14, -0.01, -0.16, -0.31, 0.12, -0.03, -0.18,
];
const RES18 = [
  0.75, 0.55, 0.42, 0.30, 0.50, 0.38, 0.26, 0.14, 0.52, 0.40, 0.28, 0.16, 0.54, 0.42, 0.30, 0.18, 0.50, 0.38, 0.26, 0.14,
  0.52, 0.40, 0.28, 0.16, 0.48, 0.36, 0.24, 0.12, 0.46, 0.34, 0.22, 0.10, 0.48, 0.36, 0.24, 0.12, 0.44, 0.32, 0.20, 0.08,
  0.46, 0.34, 0.22, 0.10, 0.42, 0.30, 0.18, 0.06, 0.40, 0.28, 0.16, 0.04, 0.42, 0.30, 0.18, 0.06, 0.44, 0.32, 0.20, 0.08,
  0.40, 0.28, 0.16, 0.04, 0.42, 0.30, 0.18, 0.06, 0.44, 0.32, 0.20, 0.08, 0.46, 0.34, 0.22, 0.10, 0.42, 0.30, 0.18, 0.06,
  0.44, 0.32, 0.20, 0.08, 0.48, 0.36, 0.24, 0.12, 0.46, 0.34, 0.22, 0.10, 0.50, 0.38, 0.26, 0.14, 0.48, 0.36, 0.24, 0.12,
  0.52, 0.40, 0.28, 0.16, 0.50, 0.38, 0.26, 0.14, 0.54, 0.42, 0.30, 0.18, 0.56, 0.44, 0.32, 0.20, 0.52, 0.40, 0.28, 0.16,
  0.54, 0.42, 0.30, 0.18, 0.56, 0.44, 0.32, 0.20, 0.52, 0.40, 0.28, 0.16, 0.50, 0.38, 0.26, 0.14, 0.48, 0.36,
];
const RES19 = [
  0.45, 0.10, 0.25, -0.05, 0.18, -0.12, 0.30, 0.02, 0.20, -0.08, 0.26, 0.00, 0.14, -0.14, 0.22, 0.04, -0.10, 0.28, 0.06, -0.06,
  0.18, -0.16, 0.24, 0.08, -0.04, 0.16, -0.12, 0.26, 0.02, 0.12, -0.08, 0.20, -0.02, 0.14, -0.18, 0.22, 0.06, -0.06, 0.18, -0.14,
  0.10, 0.24, -0.04, 0.12, -0.20, 0.16, 0.00, -0.12, 0.20, 0.04, -0.16, 0.14, -0.06, 0.22, 0.02, -0.10, 0.18, -0.18, 0.08, 0.24,
  -0.02, 0.12, -0.14, 0.20, 0.04, -0.08, 0.16, -0.20, 0.10, 0.22, 0.00, -0.12, 0.18, 0.06, -0.16, 0.24, 0.02, 0.14, -0.10, 0.20,
  -0.04, 0.16, -0.14, 0.26, 0.08, -0.06, 0.22, 0.00, 0.12, -0.16, 0.28, 0.04, 0.18, -0.08, 0.24, 0.10, -0.04, 0.30, 0.06, 0.16,
  -0.10, 0.26, 0.12, -0.02, 0.32, 0.08, 0.20, -0.06, 0.28, 0.14, 0.00, 0.34, 0.10, 0.22, -0.04, 0.30, 0.16, 0.02, 0.26, -0.08,
  0.32, 0.12, 0.24, -0.02, 0.28, 0.06, 0.18, -0.10, 0.30, 0.14, 0.02, 0.26, -0.06, 0.22, 0.08, 0.18, -0.04, 0.24,
];
const RES20 = [
  0.85, 0.55, 0.35, 0.20, 0.05, -0.10, -0.25, 0.40, 0.28, 0.16, 0.04, -0.08, -0.20, -0.34, 0.42, 0.30, 0.18, 0.06, -0.06, -0.18,
  -0.32, 0.40, 0.28, 0.16, 0.04, -0.08, -0.20, -0.36, 0.38, 0.26, 0.14, 0.02, -0.10, -0.22, -0.38, 0.36, 0.24, 0.12, 0.00, -0.12,
  -0.24, -0.42, 0.34, 0.22, 0.10, -0.02, -0.14, -0.26, -0.44, 0.36, 0.24, 0.12, 0.00, -0.12, -0.24, -0.40, 0.34, 0.22, 0.10, -0.02,
  -0.14, -0.26, -0.46, 0.36, 0.24, 0.12, 0.00, -0.12, -0.24, -0.40, 0.38, 0.26, 0.14, 0.02, -0.10, -0.22, -0.38, 0.40, 0.28, 0.16,
  0.04, -0.08, -0.20, -0.36, 0.42, 0.30, 0.18, 0.06, -0.06, -0.18, -0.32, 0.44, 0.32, 0.20, 0.08, -0.04, -0.16, -0.30, 0.46, 0.34,
  0.22, 0.10, -0.02, -0.14, -0.28, 0.46, 0.34, 0.22, 0.10, -0.02, -0.14, -0.26, 0.48, 0.36, 0.24, 0.12, 0.00, -0.12, -0.24, 0.46,
  0.34, 0.22, 0.10, -0.02, -0.14, -0.26, 0.44, 0.32, 0.20, 0.08, -0.04, -0.16, -0.30, 0.42, 0.30, 0.18, 0.06, -0.06,
];

const SERIES_LABELS = ['Specimen #1', 'Specimen #2', 'Specimen #3', 'Specimen #4', 'Specimen #5', 'Cubic fit', 'Residuals'];
const SERIES_COLORS = ['#ff0000', '#ffff00', '#00ff00', '#00ffff', '#7b22e0', '#0000ff', '#000000'];
const X_TITLE = 'Temperature, °C';
const Y_TITLE = 'Electrical resistivity';
const Y_UNIT_SYMBOL = 'μΩ';
const Y_UNIT_TAIL = '.m';
const YR_TITLE = 'Residuals, %';
const ANNOTATION = '316L - each last run';
const ANNOT_AT = { x: 764, y: 0.748 };

const pairs = (xs: number[], ys: number[]) => {
  const n = Math.min(xs.length, ys.length);
  const out: { x: number; y: number }[] = [];
  for (let i = 0; i < n; i++) out.push({ x: xs[i], y: ys[i] });
  return out;
};

const drawRotated = (
  ctx: CanvasRenderingContext2D, text: string, x: number, y: number,
  font: string, stretch: number, align: CanvasTextAlign,
) => {
  ctx.save();
  ctx.translate(x, y);
  ctx.rotate(-Math.PI / 2);
  ctx.scale(stretch, 1);
  ctx.font = font;
  ctx.textAlign = align;
  ctx.textBaseline = 'alphabetic';
  ctx.fillStyle = '#000';
  ctx.fillText(text, 0, 0);
  ctx.restore();
};

const overlayPlugin = {
  id: 'overlay',
  afterDraw(chart: any) {
    const { ctx, chartArea: a, scales } = chart;
    ctx.save();
    ctx.strokeStyle = '#000';
    ctx.lineWidth = 1.5;
    ctx.beginPath();
    ctx.moveTo(a.left, a.top);
    ctx.lineTo(a.right, a.top);
    ctx.stroke();

    ctx.fillStyle = '#000';
    ctx.font = `bold 38px ${FONT}`;
    ctx.textAlign = 'left';
    ctx.textBaseline = 'alphabetic';
    ctx.fillText(ANNOTATION, scales.x.getPixelForValue(ANNOT_AT.x), scales.y.getPixelForValue(ANNOT_AT.y));

    ctx.font = `bold 31px ${FONT}`;
    ctx.textAlign = 'center';
    ctx.fillText(X_TITLE, (a.left + a.right) / 2, 852);

    drawRotated(ctx, Y_TITLE, 36, 610, `bold 29px ${FONT}`, 1.2, 'left');
    drawRotated(ctx, Y_UNIT_SYMBOL, 57, 308, `22px "DejaVu Serif", serif`, 1, 'left');
    drawRotated(ctx, Y_UNIT_TAIL, 42, 238, `bold 24px ${FONT}`, 1.2, 'left');
    drawRotated(ctx, YR_TITLE, 1168, 407, `25px ${FONT}`, 1.24, 'center');

    const bx = 153, by = 7, bw = 276, bh = 277;
    ctx.fillStyle = '#fff';
    ctx.fillRect(bx, by, bw, bh);
    ctx.strokeStyle = '#000';
    ctx.lineWidth = 1.5;
    ctx.strokeRect(bx, by, bw, bh);
    chart.data.datasets.forEach((ds: any, i: number) => {
      const cy = 42.7 + i * 34.4;
      if (ds.showLine) {
        ctx.strokeStyle = ds.borderColor;
        ctx.lineWidth = ds.borderWidth;
        ctx.beginPath();
        ctx.moveTo(173, cy);
        ctx.lineTo(232, cy);
        ctx.stroke();
      } else {
        ctx.fillStyle = ds.backgroundColor;
        ctx.fillRect(200.5, cy - 2.5, 3, 3);
      }
      ctx.fillStyle = '#000';
      ctx.font = `bold 26px ${FONT}`;
      ctx.textAlign = 'left';
      ctx.textBaseline = 'alphabetic';
      ctx.fillText(ds.label, 248, cy + 9.5);
    });
    ctx.restore();
  },
};

export default function App() {
  const ref = useRef<HTMLCanvasElement | null>(null);

  useEffect(() => {
    if (!ref.current) return;
    const specs = [SPEC1, SPEC2, SPEC3, SPEC4, SPEC5];
    const lineSets = specs.map((s, i) => ({
      label: SERIES_LABELS[i],
      data: pairs(TEMPS, s),
      borderColor: SERIES_COLORS[i],
      backgroundColor: SERIES_COLORS[i],
      borderWidth: 2,
      showLine: true,
      pointRadius: 0,
      pointHoverRadius: 0,
      yAxisID: 'y',
      order: 2 + i,
    }));
    const fitSet = {
      label: SERIES_LABELS[5],
      data: pairs(TEMPS, FIT),
      borderColor: SERIES_COLORS[5],
      backgroundColor: SERIES_COLORS[5],
      borderWidth: 4,
      showLine: true,
      pointRadius: 0,
      pointHoverRadius: 0,
      cubicInterpolationMode: 'monotone',
      yAxisID: 'y',
      order: 1,
    };
    const resData = [
      ...pairs(RES_T_A, RES1), ...pairs(RES_T_B, RES2), ...pairs(RES_T_C, RES3),
      ...pairs(RES_T_D, RES4), ...pairs(RES_T_A, RES5), ...pairs(RES_T_B, RES6),
      ...pairs(RES_T_C, RES7), ...pairs(RES_T_D, RES8), ...pairs(RES_T_A, RES9),
      ...pairs(RES_T_B, RES10), ...pairs(RES_T_C, RES11), ...pairs(RES_T_D, RES12),
      ...pairs(RES_T_A, RES13), ...pairs(RES_T_B, RES14), ...pairs(RES_T_C, RES15),
      ...pairs(RES_T_D, RES16), ...pairs(RES_T_A, RES17), ...pairs(RES_T_B, RES18),
      ...pairs(RES_T_C, RES19), ...pairs(RES_T_D, RES20),
    ];
    const resSet = {
      label: SERIES_LABELS[6],
      data: resData,
      borderColor: SERIES_COLORS[6],
      backgroundColor: SERIES_COLORS[6],
      showLine: false,
      pointStyle: 'rect',
      pointRadius: 2.5,
      pointBorderWidth: 0,
      pointBackgroundColor: SERIES_COLORS[6],
      pointHoverRadius: 0,
      yAxisID: 'yR',
      order: 0,
    };

    const gridOpts = { drawOnChartArea: false, drawTicks: true, tickLength: 9, color: '#000', lineWidth: 1.5 };
    const borderOpts = { display: true, color: '#000', width: 1.5 };

    const chart = new Chart(ref.current, {
      type: 'scatter',
      data: { datasets: [...lineSets, fitSet, resSet] as any },
      options: {
        responsive: false,
        maintainAspectRatio: false,
        animation: false,
        devicePixelRatio: 1,
        layout: { padding: { top: 64, left: 0, right: 0, bottom: 0 } },
        plugins: { legend: { display: false }, tooltip: { enabled: false } },
        events: [],
        scales: {
          x: {
            type: 'linear',
            min: 0,
            max: 1400,
            afterFit: (s: any) => { s.height = 114; },
            ticks: {
              stepSize: 200,
              autoSkip: false,
              maxRotation: 0,
              padding: 15,
              color: '#000',
              font: { family: FONT, size: 24, weight: 'bold' },
              callback: (v: any) => String(v),
            },
            grid: gridOpts,
            border: borderOpts,
          },
          y: {
            type: 'linear',
            position: 'left',
            min: 0.6,
            max: 1.4,
            afterFit: (s: any) => { s.width = 131; },
            ticks: {
              stepSize: 0.2,
              autoSkip: false,
              padding: 15,
              color: '#000',
              font: { family: FONT, size: 24, weight: 'bold' },
              callback: (v: any) => Number(v).toFixed(1).replace('.', ','),
            },
            grid: gridOpts,
            border: borderOpts,
          },
          yR: {
            type: 'linear',
            position: 'right',
            min: -2,
            max: 2,
            afterFit: (s: any) => { s.width = 105; },
            ticks: {
              stepSize: 1,
              autoSkip: false,
              padding: 16,
              crossAlign: 'center',
              color: '#000',
              font: { family: FONT, size: 24, weight: 'normal' },
              callback: (v: any) => String(v),
            },
            grid: gridOpts,
            border: borderOpts,
          },
        },
      } as any,
      plugins: [overlayPlugin],
    });
    return () => chart.destroy();
  }, []);

  return (
    <div style={{ position: 'fixed', left: 0, top: 0, width: 1178, height: 858, background: '#fff' }}>
      <canvas ref={ref} width={1178} height={858} style={{ display: 'block' }} />
    </div>
  );
}
